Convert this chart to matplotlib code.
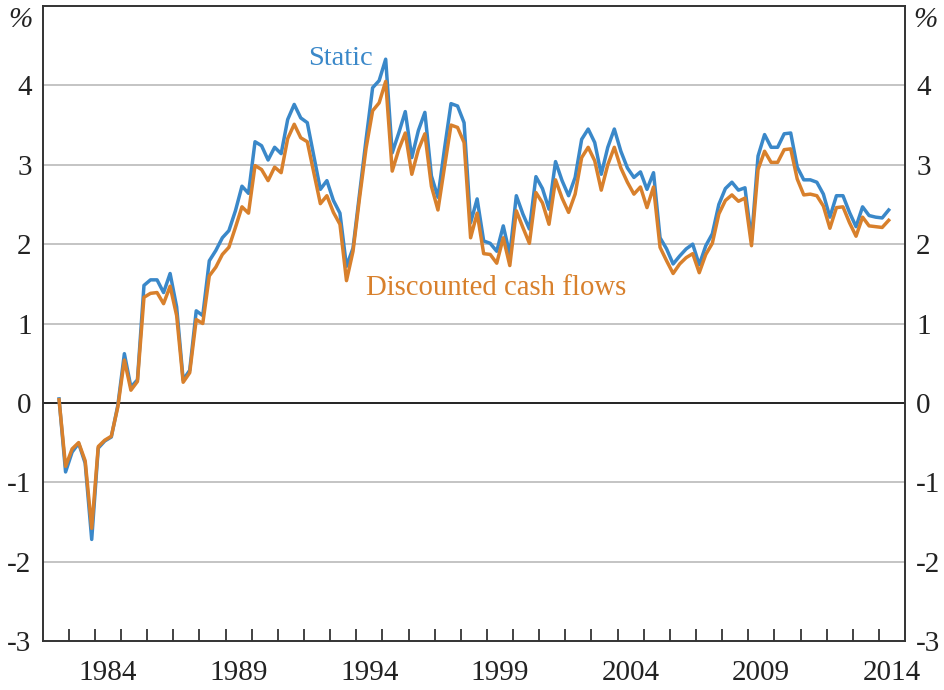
import numpy as np
import matplotlib
matplotlib.use("Agg")
import matplotlib.pyplot as plt
from matplotlib.ticker import FixedLocator, FixedFormatter

plt.rcParams['font.family'] = ['Liberation Serif', 'DejaVu Serif']
plt.rcParams['axes.unicode_minus'] = False

# quarterly, 1982 Q3 to 2014 Q2
start_year = 1982
start_quarter = 3

static = [
    0.05, -0.87, -0.62, -0.51, -0.76, -1.72, -0.57, -0.48, -0.43, -0.03,
    0.62, 0.20, 0.29, 1.48, 1.55, 1.55, 1.39, 1.63, 1.21, 0.29,
    0.41, 1.16, 1.10, 1.79, 1.92, 2.08, 2.17, 2.42, 2.73, 2.64,
    3.29, 3.24, 3.06, 3.22, 3.14, 3.57, 3.76, 3.59, 3.53, 3.11,
    2.69, 2.80, 2.55, 2.39, 1.72, 1.95, 2.64, 3.32, 3.97, 4.06,
    4.33, 3.15, 3.40, 3.67, 3.09, 3.43, 3.66, 2.86, 2.59, 3.20,
    3.77, 3.74, 3.53, 2.27, 2.57, 2.04, 2.01, 1.91, 2.23, 1.87,
    2.61, 2.38, 2.19, 2.85, 2.70, 2.44, 3.04, 2.80, 2.61, 2.84,
    3.32, 3.45, 3.28, 2.88, 3.22, 3.45, 3.17, 2.96, 2.84, 2.91,
    2.69, 2.90, 2.08, 1.94, 1.75, 1.85, 1.94, 2.00, 1.74, 1.98,
    2.13, 2.50, 2.70, 2.78, 2.68, 2.71, 2.05, 3.11, 3.38, 3.22,
    3.22, 3.39, 3.40, 2.97, 2.81, 2.81, 2.78, 2.63, 2.34, 2.61,
    2.61, 2.40, 2.22, 2.47, 2.36, 2.34, 2.33, 2.43,
]

dcf = [
    0.04, -0.80, -0.58, -0.50, -0.73, -1.58, -0.55, -0.47, -0.42, -0.05,
    0.54, 0.16, 0.27, 1.33, 1.38, 1.39, 1.25, 1.47, 1.10, 0.26,
    0.38, 1.05, 1.00, 1.60, 1.71, 1.87, 1.96, 2.21, 2.47, 2.39,
    2.99, 2.94, 2.80, 2.97, 2.90, 3.33, 3.51, 3.34, 3.29, 2.90,
    2.51, 2.61, 2.40, 2.25, 1.54, 1.91, 2.58, 3.21, 3.68, 3.78,
    4.05, 2.92, 3.19, 3.40, 2.88, 3.19, 3.39, 2.73, 2.43, 2.97,
    3.50, 3.47, 3.28, 2.08, 2.39, 1.88, 1.87, 1.76, 2.08, 1.73,
    2.42, 2.21, 2.01, 2.65, 2.52, 2.25, 2.81, 2.58, 2.40, 2.63,
    3.09, 3.22, 3.05, 2.68, 3.00, 3.22, 2.96, 2.78, 2.63, 2.72,
    2.46, 2.72, 1.96, 1.79, 1.63, 1.75, 1.83, 1.88, 1.64, 1.87,
    2.01, 2.38, 2.55, 2.62, 2.54, 2.58, 1.98, 2.94, 3.17, 3.03,
    3.03, 3.19, 3.20, 2.82, 2.62, 2.63, 2.61, 2.48, 2.20, 2.46,
    2.47, 2.27, 2.10, 2.34, 2.23, 2.22, 2.21, 2.30,
]

year_labels = [1984, 1989, 1994, 1999, 2004, 2009, 2014]

blue = '#3a88c9'
orange = '#d8802c'

t = start_year + (start_quarter - 0.5) / 4 + np.arange(len(static)) / 4

fig = plt.figure(figsize=(9.45, 6.9), dpi=100)
ax = fig.add_axes([0.0452, 0.071, 0.9125, 0.9203])

for y in [-2, -1, 1, 2, 3, 4]:
    ax.axhline(y, color='#c4c4c4', lw=1.4, zorder=1)
ax.axhline(0, color='#222222', lw=1.4, zorder=2)

ax.plot(t, static, color=blue, lw=2.5, zorder=3)
ax.plot(t, dcf, color=orange, lw=2.5, zorder=4)

ax.set_xlim(1982, 2015)
ax.set_ylim(-3, 5)

ax.text(1993.4, 4.34, 'Static', color=blue, fontsize=20.5, ha='center', va='center')
ax.text(1999.35, 1.445, 'Discounted cash flows', color=orange, fontsize=20.7,
        ha='center', va='center')

# x axis: year boundary ticks, labels centred in the year
ax.xaxis.set_minor_locator(FixedLocator(np.arange(1983, 2015)))
ax.xaxis.set_major_locator(FixedLocator([y + 0.5 for y in year_labels]))
ax.xaxis.set_major_formatter(FixedFormatter([str(y) for y in year_labels]))
ax.tick_params(axis='x', which='minor', direction='in', length=8.5, width=1.2,
               color='#222222')
ax.tick_params(axis='x', which='major', length=0, pad=14, labelsize=21,
               labelcolor='#222222')

yt = [-3, -2, -1, 0, 1, 2, 3, 4]
ax.set_yticks(yt)
ax.set_yticklabels([str(v) for v in yt])
ax.tick_params(axis='y', length=0, labelsize=21, labelcolor='#222222',
               left=True, right=True, labelleft=True, labelright=True, pad=8)

for s in ax.spines.values():
    s.set_color('#333333')
    s.set_linewidth(1.4)

ax.text(-0.026, 0.978, '%', transform=ax.transAxes, fontsize=21, style='italic',
        ha='center', va='center', color='#222222')
ax.text(1.0235, 0.978, '%', transform=ax.transAxes, fontsize=21, style='italic',
        ha='center', va='center', color='#222222')

fig.savefig('out.png', dpi=100)
